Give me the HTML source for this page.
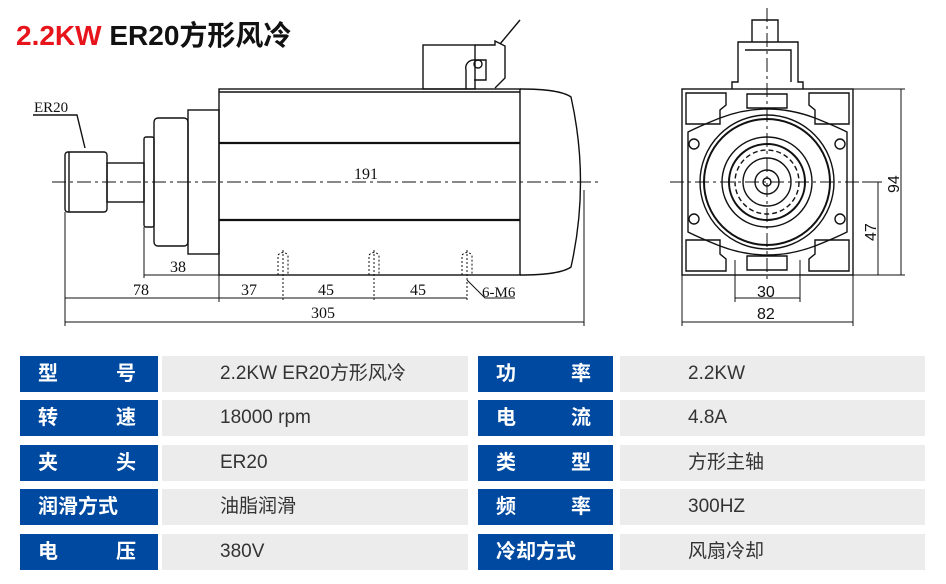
<!DOCTYPE html>
<html><head><meta charset="utf-8"><style>
body{margin:0;background:#fff;width:946px;height:584px;overflow:hidden;position:relative;font-family:"Liberation Sans","Noto Sans CJK SC",sans-serif}
.t{position:absolute;top:14px;left:16px;font-size:28px;font-weight:bold;font-family:"Liberation Sans","Noto Sans CJK SC",sans-serif;white-space:nowrap}
.row{position:absolute;height:36px;display:flex}
.l{background:#0049a0;color:#fff;font-weight:bold;font-size:20px;line-height:36px;height:36px;display:flex;justify-content:space-between;padding:0 22px 0 18px;box-sizing:border-box}
.v{background:#ececec;color:#333;font-size:19px;line-height:36px;height:36px;box-sizing:border-box;white-space:nowrap}
.v span,.l span{display:inline-block;vertical-align:top;line-height:36px}
</style></head><body>
<div class="t"><span style="color:#e8141b">2.2KW</span> <span style="color:#111">ER20方形风冷</span></div>
<svg width="946" height="340" style="position:absolute;left:0;top:0" font-family="Liberation Serif,serif" font-size="16">
<g stroke="#111" fill="none" stroke-width="1.4">
<rect x="423" y="45" width="52" height="44"/>
<path d="M466 89 V70 a8 8 0 0 1 8-10 h12 v20 h-12 M475 45 h20 v-4 l10 5 v32 l-10 10"/>
<circle cx="478" cy="64" r="4"/>
<line x1="500" y1="44" x2="520" y2="20"/>
<rect x="219" y="89" width="301" height="186"/>
<line x1="219" y1="92" x2="520" y2="92"/>
<line x1="219" y1="143" x2="520" y2="143" stroke-width="2.2"/>
<line x1="219" y1="220" x2="520" y2="220" stroke-width="2.2"/>
<path d="M520 89 Q560 89 571 97 Q590 182 571 267 Q560 275 520 275"/>
<rect x="188" y="110" width="31" height="144"/>
<rect x="154" y="118" width="34" height="128" rx="4"/>
<rect x="144" y="137" width="10" height="90" rx="2"/>
<rect x="107" y="163" width="37" height="39"/>
<rect x="65" y="152" width="42" height="60" rx="3"/>
<line x1="69" y1="152" x2="69" y2="212"/>
<line x1="52" y1="182" x2="600" y2="182" stroke-dasharray="14 4 3 4" stroke-width="1"/>
<path d="M33 115 H77 L85 148"/>
<g stroke-dasharray="2 2" stroke-width="1"><path d="M278 275 V255 q5 -5 10 0 V275 M283 250 V302"/><path d="M369 275 V255 q5 -5 10 0 V275 M374 250 V302"/><path d="M462 275 V255 q5 -5 10 0 V275 M467 250 V302"/></g>
<g stroke-width="1">
<line x1="144" y1="227" x2="144" y2="278"/><line x1="144" y1="275" x2="219" y2="275"/>
<line x1="65" y1="212" x2="65" y2="326"/><line x1="219" y1="275" x2="219" y2="302"/><line x1="584" y1="190" x2="584" y2="326"/>
<line x1="65" y1="298" x2="467" y2="298"/><line x1="65" y1="322" x2="584" y2="322"/>
<path d="M467 280 L485 298 H515"/>
</g>
<rect x="682" y="89" width="171" height="186"/>
<path d="M732 89 V82 h6 V42 h60 v40 h5 v7 M752 42 V20 h26 v22 M745 50 h46 V82"/>
<path d="M686 93 h40 v12 l-6 5 v14 h-34z M849 93 h-40 v12 l6 5 v14 h34z M686 271 h40 v-12 l-6 -5 v-14 h-34z M849 271 h-40 v-12 l6 -5 v-14 h34z M747 94 h40 v14 h-40z M747 270 h40 v-14 h-40z"/>
<path d="M688 132 Q700 126 720 118 Q767 100 815 118 Q835 126 847 132 V232 Q835 238 815 246 Q767 264 720 246 Q700 238 688 232 Z"/>
<circle cx="767" cy="182" r="67"/><circle cx="767" cy="182" r="63" stroke-width="2"/>
<circle cx="767" cy="182" r="45"/><circle cx="767" cy="182" r="38" stroke-width="2"/>
<circle cx="767" cy="182" r="32" stroke-dasharray="5 3"/><circle cx="767" cy="182" r="24"/>
<circle cx="767" cy="182" r="12"/><circle cx="767" cy="182" r="4"/>
<circle cx="694" cy="144" r="5"/><circle cx="840" cy="144" r="5"/><circle cx="694" cy="219" r="5"/><circle cx="840" cy="219" r="5"/>
<g stroke-width="1">
<line x1="767" y1="8" x2="767" y2="282" stroke-dasharray="14 4 3 4"/>
<line x1="670" y1="182" x2="862" y2="182" stroke-dasharray="14 4 3 4"/>
<line x1="853" y1="89" x2="905" y2="89"/><line x1="853" y1="275" x2="905" y2="275"/>
<line x1="901" y1="89" x2="901" y2="275"/><line x1="862" y1="182" x2="882" y2="182"/><line x1="878" y1="182" x2="878" y2="275"/>
<line x1="682" y1="275" x2="682" y2="326"/><line x1="853" y1="275" x2="853" y2="326"/>
<line x1="735" y1="260" x2="735" y2="302"/><line x1="800" y1="260" x2="800" y2="302"/>
<line x1="735" y1="298" x2="800" y2="298"/><line x1="682" y1="322" x2="853" y2="322"/>
</g>
</g>
<g fill="#111" stroke="none">
<text x="34" y="112" font-size="15">ER20</text>
<text x="354" y="179">191</text>
<text x="170" y="272">38</text><text x="133" y="295">78</text><text x="241" y="295">37</text><text x="318" y="295">45</text><text x="410" y="295">45</text>
<text x="482" y="297" font-size="15">6-M6</text><text x="311" y="318">305</text>
<g font-family="Liberation Sans,sans-serif" font-size="16">
<text x="757" y="297">30</text><text x="757" y="319">82</text>
<text transform="translate(899 193) rotate(-90)">94</text><text transform="translate(876 241) rotate(-90)">47</text>
</g></g>
</svg>
<div class="row" style="top:356px;left:20px"><div class="l" style="width:138px"><span>型</span><span>号</span></div><div class="v" style="width:306px;margin-left:4px;padding-left:58px"><span>2.2KW ER20方形风冷</span></div></div>
<div class="row" style="top:400px;left:20px"><div class="l" style="width:138px"><span>转</span><span>速</span></div><div class="v" style="width:306px;margin-left:4px;padding-left:58px"><span>18000 rpm</span></div></div>
<div class="row" style="top:445px;left:20px"><div class="l" style="width:138px"><span>夹</span><span>头</span></div><div class="v" style="width:306px;margin-left:4px;padding-left:58px"><span>ER20</span></div></div>
<div class="row" style="top:489px;left:20px"><div class="l" style="width:138px"><span>润滑方式</span></div><div class="v" style="width:306px;margin-left:4px;padding-left:58px"><span>油脂润滑</span></div></div>
<div class="row" style="top:534px;left:20px"><div class="l" style="width:138px"><span>电</span><span>压</span></div><div class="v" style="width:306px;margin-left:4px;padding-left:58px"><span>380V</span></div></div>
<div class="row" style="top:356px;left:478px"><div class="l" style="width:135px"><span>功</span><span>率</span></div><div class="v" style="width:305px;margin-left:7px;padding-left:68px"><span>2.2KW</span></div></div>
<div class="row" style="top:400px;left:478px"><div class="l" style="width:135px"><span>电</span><span>流</span></div><div class="v" style="width:305px;margin-left:7px;padding-left:68px"><span>4.8A</span></div></div>
<div class="row" style="top:445px;left:478px"><div class="l" style="width:135px"><span>类</span><span>型</span></div><div class="v" style="width:305px;margin-left:7px;padding-left:68px"><span>方形主轴</span></div></div>
<div class="row" style="top:489px;left:478px"><div class="l" style="width:135px"><span>频</span><span>率</span></div><div class="v" style="width:305px;margin-left:7px;padding-left:68px"><span>300HZ</span></div></div>
<div class="row" style="top:534px;left:478px"><div class="l" style="width:135px"><span>冷却方式</span></div><div class="v" style="width:305px;margin-left:7px;padding-left:68px"><span>风扇冷却</span></div></div>
</body></html>
